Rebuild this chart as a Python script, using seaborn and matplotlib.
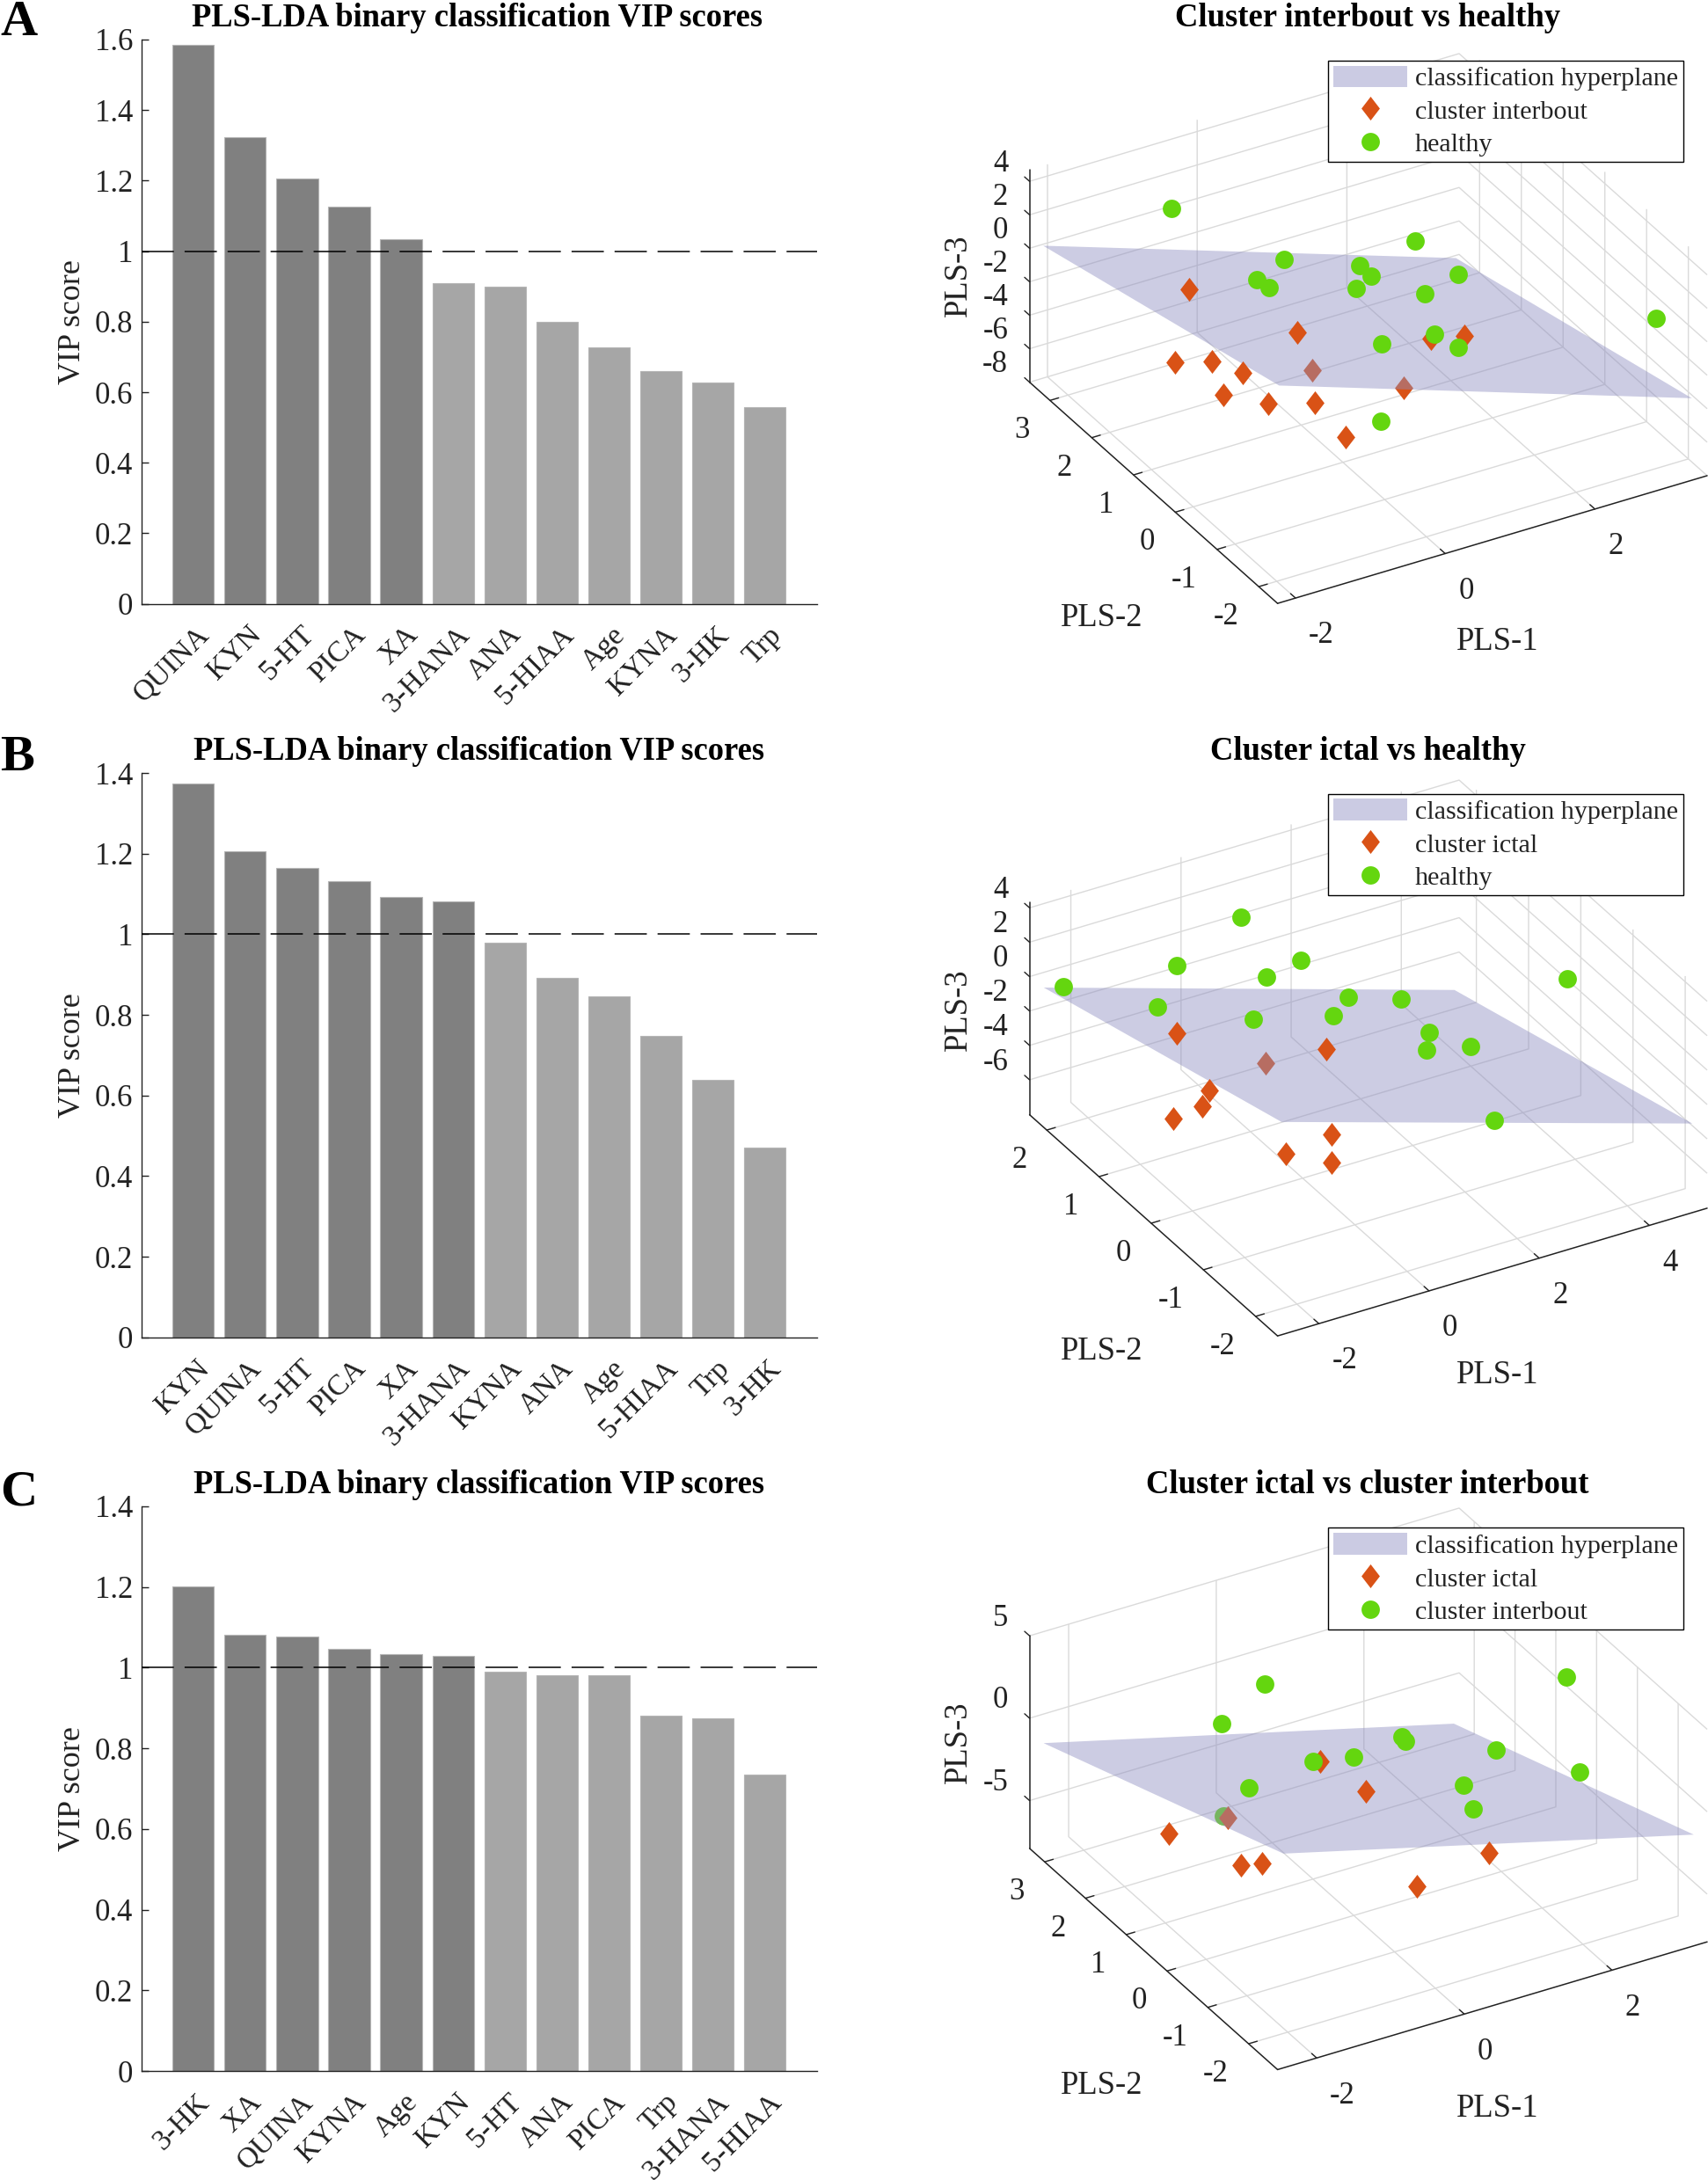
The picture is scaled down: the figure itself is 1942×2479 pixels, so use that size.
import numpy as np
import pandas as pd
import matplotlib
matplotlib.use("Agg")
import matplotlib.pyplot as plt
from matplotlib.lines import Line2D
from matplotlib.patches import Patch
from matplotlib.transforms import ScaledTranslation
import seaborn as sns

# ---------- bar data ----------
names_a = ['QUINA','KYN','5-HT','PICA','XA','3-HANA','ANA','5-HIAA','Age','KYNA','3-HK','Trp']
vip_a = [1.585,1.323,1.206,1.127,1.033,0.908,0.900,0.800,0.726,0.659,0.628,0.557]
names_b = ['KYN','QUINA','5-HT','PICA','XA','3-HANA','KYNA','ANA','Age','5-HIAA','Trp','3-HK']
vip_b = [1.374,1.206,1.165,1.131,1.093,1.082,0.978,0.891,0.845,0.747,0.639,0.471]
names_c = ['3-HK','XA','QUINA','KYNA','Age','KYN','5-HT','ANA','PICA','Trp','3-HANA','5-HIAA']
vip_c = [1.202,1.082,1.077,1.047,1.033,1.030,0.990,0.981,0.981,0.880,0.874,0.734]

# ---------- scatter data (x, y, z) ----------
a_green = [(-.745,2.773,2),(-.004,1.406,1),(-.308,1.503,0),(-.088,1.607,-1),(.682,.827,1),(.873,.891,0),
           (.768,1.067,-1),(1.33,.656,2),(1.758,.392,0),(1.403,.543,-1),(3.443,-1.333,-1),(1.236,.012,-2),
           (.785,.476,-3),(1.311,-.404,-2),(-.291,-1.43,-2)]
a_orange = [(-.543,2.712,-3),(.07,1.21,-3),(-1.119,2.014,-5),(-.932,1.474,-4),(-.562,1.397,-5),(-1.0,1.072,-5),
            (-.469,.957,-6),(-.175,.353,-5),(-.068,-.187,-6),(1.328,.273,-3),(1.703,.133,-3)]
a_orange_low = [(.16,1.03,-5),(.878,.119,-5)]
a_green_low = []

b_green = [(.248,1.449,3),(-1.104,1.241,2),(-2.435,2.012,0),(.663,.738,2),(.201,.911,1),(-1.206,1.512,-1),
           (-.091,.854,-1),(1.011,.193,1),(.784,.245,0),(1.707,-.082,1),(2.1,-.211,-1),(2.052,-.203,-2),
           (2.445,-.634,-1),(4.278,-.549,1),(2.171,-1.375,-3)]
b_orange = [(-1.078,1.269,-2),(.701,.293,-2),(-.989,.749,-4),(-1.065,.804,-5),(-1.651,.737,-5),
            (.266,-.269,-5),(-.394,-.092,-6),(.1,-.445,-6)]
b_orange_low = [(-.072,.631,-3)]
b_green_low = []

c_green = [(-.126,1.962,2),(-.827,1.744,1),(3.019,.241,2),(1.043,.71,0),(1.209,.924,-1),(.041,1.079,-1),
           (.317,.583,0),(2.035,.196,-1),(-.715,1.272,-2),(1.307,-.334,-1),(2.639,-.764,-1),(1.321,-.532,-2)]
c_orange = [(.118,1.044,-1),(.616,.817,-3),(-1.678,1.503,-4),(-1.12,.748,-5),(-.888,.645,-5),
            (1.356,-.869,-4),(.424,-.77,-5)]
c_orange_low = [(-1.087,1.119,-3)]
c_green_low = [(-1.107,1.194,-3)]

# ---------- hyperplanes ----------
plane_a = ([-2.125,3.39],[-2.27,3.38],[[4.49,-3.6],[.27,-7.8]])
plane_b = ([-2.594,4.863],[-2.325,2.23],[[4.03,-3.16],[-.49,-7.73]])
plane_c = ([-2.355,3.203],[-2.528,3.352],[[4.6,-1.65],[-1.68,-7.9]])

# ---------- axes ranges and ticks ----------
lims_a = ((-2.24,3.5),(-2.45,3.49),(-8,4.7))
lims_b = ((-2.75,5.05),(-2.42,2.33),(-8.03,4.33))
lims_c = ((-2.53,3.29),(-2.71,3.37),(-7.9,5))
ticks_a = ([-2,0,2],[-2,-1,0,1,2,3],[-8,-6,-4,-2,0,2,4])
ticks_b = ([-2,0,2,4],[-2,-1,0,1,2],[-6,-4,-2,0,2,4])
ticks_c = ([-2,0,2],[-2,-1,0,1,2,3],[-5,0,5])

PX_W, PX_H = 1942, 2479
sns.set_theme(style='white')
plt.rcParams['font.family'] = ['Liberation Serif', 'DejaVu Serif']
plt.rcParams['axes.unicode_minus'] = False
fig = plt.figure(figsize=(PX_W/100, PX_H/100), dpi=100, facecolor='white')

DARK, LIGHT = '#808080', '#A6A6A6'
ORANGE, GREEN = '#D95216', '#64D60F'
PLANE = '#8E8EC1'
TEXT = '#222222'
diamond = np.array([(0,1),(.77,0),(0,-1),(-.77,0),(0,1)])

def fx(px): return px/PX_W
def fy(py): return 1-py/PX_H

def bars(names, vals, ymax, yticks, top, bottom, ttl_y, letter, letter_y, ttl_x):
    ax = fig.add_axes([fx(160.6), fy(bottom), (928.8-160.6)/PX_W, (bottom-top)/PX_H])
    df = pd.DataFrame({'name': names, 'vip': vals,
                       'group': ['high' if v > 1 else 'low' for v in vals]})
    sns.barplot(data=df, x='name', y='vip', hue='group', dodge=False, width=0.8, ax=ax,
                palette={'high': DARK, 'low': LIGHT}, legend=False, saturation=1,
                edgecolor='#B5B5B5', linewidth=0.8, order=names)
    ax.axhline(1, color='black', lw=1.1, dashes=(24, 8), zorder=5)
    ax.set_xlim(-1, 12)
    ax.set_ylim(0, ymax)
    ax.set_yticks(yticks)
    ax.set_yticklabels([f'{t:g}' for t in yticks])
    ax.tick_params(axis='y', direction='in', length=6, width=1, labelsize=25, pad=7, left=True, colors=TEXT)
    ax.tick_params(axis='x', length=0, labelsize=24, pad=20, colors=TEXT)
    shift = ScaledTranslation(14/100, -3/100, fig.dpi_scale_trans)
    for lab in ax.get_xticklabels():
        lab.set(rotation=45, ha='right', va='center', rotation_mode='anchor')
        lab.set_transform(lab.get_transform() + shift)
    ax.set_xlabel('')
    ax.set_ylabel('VIP score', fontsize=26, color=TEXT)
    ax.yaxis.set_label_coords((99-160.6)/768.2, 0.5)
    for s in ('top','right'):
        ax.spines[s].set_visible(False)
    for s in ('left','bottom'):
        ax.spines[s].set_color(TEXT); ax.spines[s].set_linewidth(1)
    fig.text(fx(ttl_x), fy(ttl_y), 'PLS-LDA binary classification VIP scores', fontsize=26.3,
             fontweight='bold', ha='center', va='center', color='black')
    fig.text(fx(0), fy(letter_y), letter, fontsize=42, fontweight='bold', ha='left', va='center', color='black')

def scatter3d(title, lims, ticks, plane, green, orange, green_low, orange_low, oname, gname,
              cy, ttl_y, legend_top, labels_y, elev=31):
    W = 800
    cx = 1555.8
    ax = fig.add_axes([fx(cx-0.5135*W), fy(cy+0.5135*W), W/PX_W, W/PX_H], projection='3d',
                      computed_zorder=False, proj_type='ortho')
    ax.patch.set_alpha(0)
    ax.view_init(elev=elev, azim=-120)
    ax.set_box_aspect((1,1,0.5), zoom=1.0266)
    ax.set_xlim(*lims[0]); ax.set_ylim(*lims[1]); ax.set_zlim(*lims[2])
    ax.set_xticks(ticks[0]); ax.set_yticks(ticks[1]); ax.set_zticks(ticks[2])
    for axis in (ax.xaxis, ax.yaxis, ax.zaxis):
        axis.set_pane_color((1,1,1,0))
        axis.pane.set_edgecolor((1,1,1,0))
        axis.line.set_color(TEXT); axis.line.set_linewidth(1.1)
        axis._axinfo['grid'].update(color='#DADADA', linewidth=1)
        axis._axinfo['tick'].update(inward_factor=0.0, outward_factor=0.25, linewidth={True:1, False:1})
    ax.tick_params(labelsize=25, colors=TEXT)
    ax.tick_params(axis='x', pad=8)
    ax.tick_params(axis='y', pad=6)
    ax.tick_params(axis='z', pad=1.5)
    ax.zaxis._axinfo['juggled'] = (1, 2, 0)
    ax.zaxis.set_ticks_position('lower')
    for lab in ax.get_xticklabels():
        lab.set_ha('left')
    for lab in ax.get_yticklabels():
        lab.set_ha('right')
    for lab in ax.get_zticklabels():
        lab.set_ha('right')
        lab.set_va('bottom')

    px, py, pz = plane
    X, Y = np.meshgrid(px, py)
    if orange_low or green_low:
        if green_low:
            g = np.array(green_low)
            ax.scatter(g[:,0], g[:,1], g[:,2], c=GREEN, s=225, marker='o', depthshade=False, linewidths=0, zorder=1)
        o = np.array(orange_low)
        ax.scatter(o[:,0], o[:,1], o[:,2], c=ORANGE, s=380, marker=diamond, depthshade=False, linewidths=0, zorder=1.5)
    ax.plot_surface(X, Y, np.array(pz), color=PLANE, alpha=0.45, shade=False, linewidth=0, zorder=2)
    o = np.array(orange)
    ax.scatter(o[:,0], o[:,1], o[:,2], c=ORANGE, s=380, marker=diamond, depthshade=False, linewidths=0, zorder=3)
    g = np.array(green)
    ax.scatter(g[:,0], g[:,1], g[:,2], c=GREEN, s=225, marker='o', depthshade=False, linewidths=0, zorder=4)

    fig.text(fx(1555), fy(ttl_y+3), title, fontsize=26.4, fontweight='bold', ha='center', va='center', color='black')
    fig.text(fx(1703), fy(labels_y[0]+3), 'PLS-1', fontsize=26.4, ha='center', va='center', color=TEXT)
    fig.text(fx(1252.9), fy(labels_y[1]+3), 'PLS-2', fontsize=26.4, ha='center', va='center', color=TEXT)
    fig.text(fx(1090), fy(labels_y[2]), 'PLS-3', fontsize=26.4, rotation=90, ha='center', va='center', color=TEXT)

    handles = [Patch(facecolor='#CBCBE3', edgecolor='none'),
               Line2D([],[],ls='',marker=diamond,color=ORANGE,markersize=19.5,markeredgewidth=0),
               Line2D([],[],ls='',marker='o',color=GREEN,markersize=15,markeredgewidth=0)]
    fig.legend(handles, ['classification hyperplane', oname, gname], loc='upper left',
               bbox_to_anchor=(fx(1510), fy(legend_top+1.5)), fontsize=21.6, frameon=True, fancybox=False,
               framealpha=1, edgecolor='black', borderaxespad=0, borderpad=0.2, labelspacing=0.29,
               handlelength=2.8, handleheight=0.9, handletextpad=0.3, labelcolor=TEXT)

t8 = [0,0.2,0.4,0.6,0.8,1,1.2,1.4,1.6]
t7 = t8[:-1]
bars(names_a, vip_a, 1.6, t8, 44.9, 686.7, 21, 'A', 26, 542)
bars(names_b, vip_b, 1.4, t7, 879, 1520.8, 855, 'B', 862, 545)
bars(names_c, vip_c, 1.4, t7, 1712.8, 2355.2, 1689, 'C', 1697, 545)

scatter3d('Cluster interbout vs healthy', lims_a, ticks_a, plane_a, a_green, a_orange, a_green_low, a_orange_low,
          'cluster interbout', 'healthy', 366.9, 17, 67, (727, 700, 313))
scatter3d('Cluster ictal vs healthy', lims_b, ticks_b, plane_b, b_green, b_orange, b_green_low, b_orange_low,
          'cluster ictal', 'healthy', 1199.9, 852, 901, (1561, 1534, 1148))
scatter3d('Cluster ictal vs cluster interbout', lims_c, ticks_c, plane_c, c_green, c_orange, c_green_low, c_orange_low,
          'cluster ictal', 'cluster interbout', 2034.2, 1686, 1735.7, (2395, 2369, 1981))

fig.savefig('out.png', dpi=100, facecolor='white')
